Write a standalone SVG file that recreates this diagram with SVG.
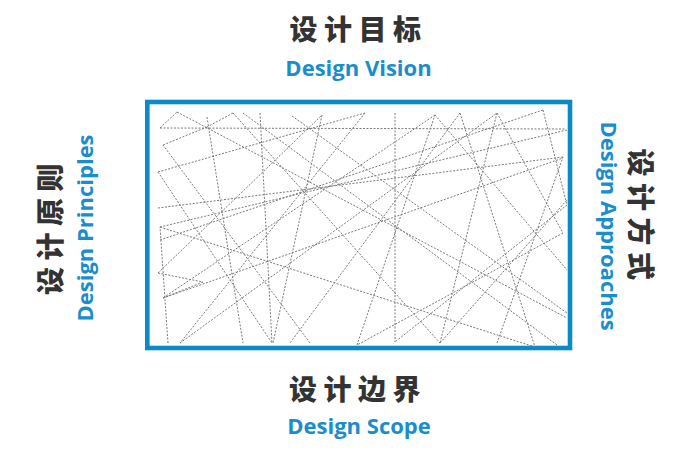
<svg xmlns="http://www.w3.org/2000/svg" width="683" height="466" viewBox="0 0 683 466">
<style>
.zh{font-family:"Noto Sans CJK SC","Noto Sans",sans-serif;font-weight:900;font-size:28px;fill:#333333;letter-spacing:6.5px}
.en{font-family:"Open Sans","Noto Sans",sans-serif;font-weight:700;font-size:22px;fill:#1a8dcc;text-anchor:middle}
.d line{stroke:#7a7a7a;stroke-width:1;stroke-dasharray:2 1.5;fill:none}
</style>
<rect width="683" height="466" fill="#ffffff"/>
<g id="frame">
<rect x="147.3" y="102" width="422.7" height="246" fill="#ffffff" stroke="#0a8ac9" stroke-width="4.6"/>
</g>
<g id="connectors" class="d">
<line x1="160" y1="128" x2="566" y2="129"/>
<line x1="160" y1="128" x2="177" y2="112"/>
<line x1="177" y1="112" x2="567" y2="318"/>
<line x1="207" y1="117" x2="243" y2="343"/>
<line x1="260" y1="113" x2="272" y2="343"/>
<line x1="233" y1="113" x2="440" y2="343"/>
<line x1="233" y1="113" x2="207" y2="127"/>
<line x1="207" y1="127" x2="163" y2="145"/>
<line x1="292" y1="116" x2="567" y2="313"/>
<line x1="322" y1="115" x2="273" y2="343"/>
<line x1="158" y1="172" x2="365" y2="113"/>
<line x1="365" y1="113" x2="180" y2="343"/>
<line x1="395" y1="113" x2="395" y2="342"/>
<line x1="435" y1="115" x2="163" y2="298"/>
<line x1="435" y1="115" x2="567" y2="270"/>
<line x1="460" y1="113" x2="290" y2="343"/>
<line x1="460" y1="113" x2="535" y2="347"/>
<line x1="497" y1="113" x2="440" y2="343"/>
<line x1="497" y1="113" x2="563" y2="233"/>
<line x1="543" y1="110" x2="567" y2="205"/>
<line x1="543" y1="110" x2="160" y2="240"/>
<line x1="158" y1="208" x2="563" y2="157"/>
<line x1="567" y1="130" x2="160" y2="227"/>
<line x1="160" y1="227" x2="535" y2="347"/>
<line x1="563" y1="233" x2="357" y2="345"/>
<line x1="557" y1="345" x2="243" y2="113"/>
<line x1="497" y1="343" x2="563" y2="157"/>
<line x1="440" y1="343" x2="567" y2="200"/>
<line x1="158" y1="273" x2="203" y2="282"/>
<line x1="203" y1="282" x2="163" y2="298"/>
<line x1="163" y1="298" x2="563" y2="158"/>
<line x1="168" y1="343" x2="160" y2="227"/>
<line x1="180" y1="343" x2="497" y2="113"/>
<line x1="310" y1="343" x2="163" y2="145"/>
<line x1="158" y1="172" x2="272" y2="343"/>
<line x1="357" y1="345" x2="435" y2="115"/>
<line x1="567" y1="205" x2="395" y2="342"/>
<line x1="158" y1="273" x2="322" y2="115"/>
</g>
<g id="top">
<text class="zh" x="289.5" y="39.5">设计目标</text>
<text class="en" x="358.5" y="75.5">Design Vision</text>
</g>
<g id="bottom">
<text class="zh" x="289" y="400">设计边界</text>
<text class="en" x="359" y="434">Design Scope</text>
</g>
<g id="left">
<text class="zh" transform="translate(61.3,229) rotate(-90)" x="-66" y="0">设计原则</text>
<text class="en" transform="translate(93,228) rotate(-90)" x="0" y="0">Design Principles</text>
</g>
<g id="right">
<text class="zh" transform="translate(629.5,216.5) rotate(90)" x="-68" y="0">设计方式</text>
<text class="en" transform="translate(601.3,226) rotate(90)" x="0" y="0">Design Approaches</text>
</g>
</svg>
